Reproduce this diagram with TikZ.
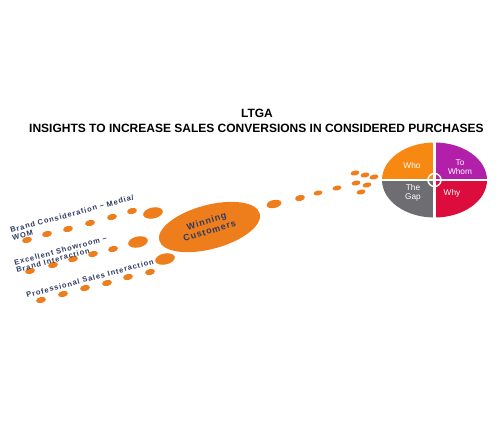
\documentclass[tikz,border=0pt]{standalone}
\usepackage{fontspec}
\setmainfont{Liberation Sans}
\newfontfamily\lblfont[LetterSpace=12]{Liberation Sans}
\newfontfamily\winfont[LetterSpace=10]{Liberation Sans}
\usetikzlibrary{shapes.geometric}
\definecolor{dotor}{RGB}{238,125,28}
\definecolor{whocol}{RGB}{247,137,18}
\definecolor{whomcol}{RGB}{178,32,170}
\definecolor{whycol}{RGB}{220,12,60}
\definecolor{gapcol}{RGB}{110,110,114}
\definecolor{navy}{RGB}{47,58,98}
\begin{document}
\begin{tikzpicture}[x=1pt,y=-1pt,
  dotb/.style={ellipse, fill=dotor, inner sep=0pt, minimum width=10pt, minimum height=6pt, rotate=12},
  bigdot/.style={dotb, minimum width=20pt, minimum height=11pt},
  pdot/.style={dotb, minimum width=9pt, minimum height=5pt},
  lbl/.style={font=\lblfont\bfseries\fontsize{7.5}{7.5}\selectfont, text=navy, rotate=15, align=left, inner sep=0pt},
  ptxt/.style={font=\fontsize{8.3}{9}\selectfont, text=white, align=center, inner sep=0pt},
  ttl/.style={font=\bfseries\fontsize{12}{14}\selectfont, inner sep=0pt}
]
\useasboundingbox (0,0) rectangle (500,421);
% title
\node[ttl] (t1) at (257,113) {LTGA};
\node[ttl] (t2) at (256.5,128) {INSIGHTS TO INCREASE SALES CONVERSIONS IN CONSIDERED PURCHASES};
% pie
\fill[whocol] (434.5,180) -- (382,180) arc[start angle=180, end angle=270, x radius=52.5, y radius=37.5] -- cycle;
\fill[whomcol] (434.5,180) -- (434.5,142.5) arc[start angle=270, end angle=360, x radius=52.5, y radius=37.5] -- cycle;
\fill[whycol] (434.5,180) -- (487,180) arc[start angle=0, end angle=90, x radius=52.5, y radius=37.5] -- cycle;
\fill[gapcol] (434.5,180) -- (434.5,217.5) arc[start angle=90, end angle=180, x radius=52.5, y radius=37.5] -- cycle;
\draw[white, line width=2.5pt] (380,180) -- (489,180);
\draw[white, line width=2.5pt] (434.5,141) -- (434.5,219);
\draw[white, line width=1.5pt] (434.5,180) circle (6.5);
\node[ptxt] (who) at (412,166) {Who};
\node[ptxt] (towhom) at (460,167) {To\\Whom};
\node[ptxt] (thegap) at (413,193) {The\\Gap};
\node[ptxt] (why) at (452,193) {Why};
% winning customers
\node[ellipse, fill=dotor, inner sep=0pt, minimum width=104pt, minimum height=44pt, rotate=15] (win) at (209.5,227) {};
\node[font=\winfont\bfseries\fontsize{9}{10}\selectfont, text=navy, align=center, rotate=17, inner sep=0pt] (wintxt) at (208,226) {Winning\\Customers};
% dots to pie
\node[dotb, minimum width=15pt, minimum height=8pt] (p1) at (274,204) {};
\node[dotb] (p2) at (300,198) {};
\node[pdot] (p3) at (318,193) {};
\node[pdot] (p4) at (337,188) {};
\node[pdot] (c1) at (355,173) {};
\node[pdot] (c2) at (365,175) {};
\node[pdot] (c3) at (374,177) {};
\node[pdot] (c4) at (356,183) {};
\node[pdot] (c5) at (367,185) {};
\node[pdot] (c6) at (361,192) {};
% row 1
\node[dotb] (a1) at (27,240) {};
\node[dotb] (a2) at (47,234) {};
\node[dotb] (a3) at (68,229) {};
\node[dotb] (a4) at (90,223) {};
\node[dotb] (a5) at (112,217) {};
\node[dotb] (a6) at (132,211) {};
\node[bigdot] (a7) at (153,213) {};
% row 2
\node[dotb] (b1) at (30,271) {};
\node[dotb] (b2) at (53,265) {};
\node[dotb] (b3) at (73,259) {};
\node[dotb] (b4) at (93,254) {};
\node[dotb] (b5) at (113,249) {};
\node[bigdot] (b6) at (138,242) {};
% row 3
\node[dotb] (r1) at (41,300) {};
\node[dotb] (r2) at (63,294) {};
\node[dotb] (r3) at (85,288) {};
\node[dotb] (r4) at (107,283) {};
\node[dotb] (r5) at (128,277) {};
\node[dotb] (r6) at (150,272) {};
\node[bigdot] (r7) at (165,259) {};
% labels
\node[lbl, anchor=north west] (l1) at (9.5,227.5) {Brand Consideration – Media/\\WOM};
\node[lbl, anchor=north west] (l2) at (13.5,260) {Excellent Showroom –\\Brand Interaction};
\node[lbl, anchor=base west] (l3) at (27,298) {Professional Sales Interaction};
\end{tikzpicture}
\end{document}
